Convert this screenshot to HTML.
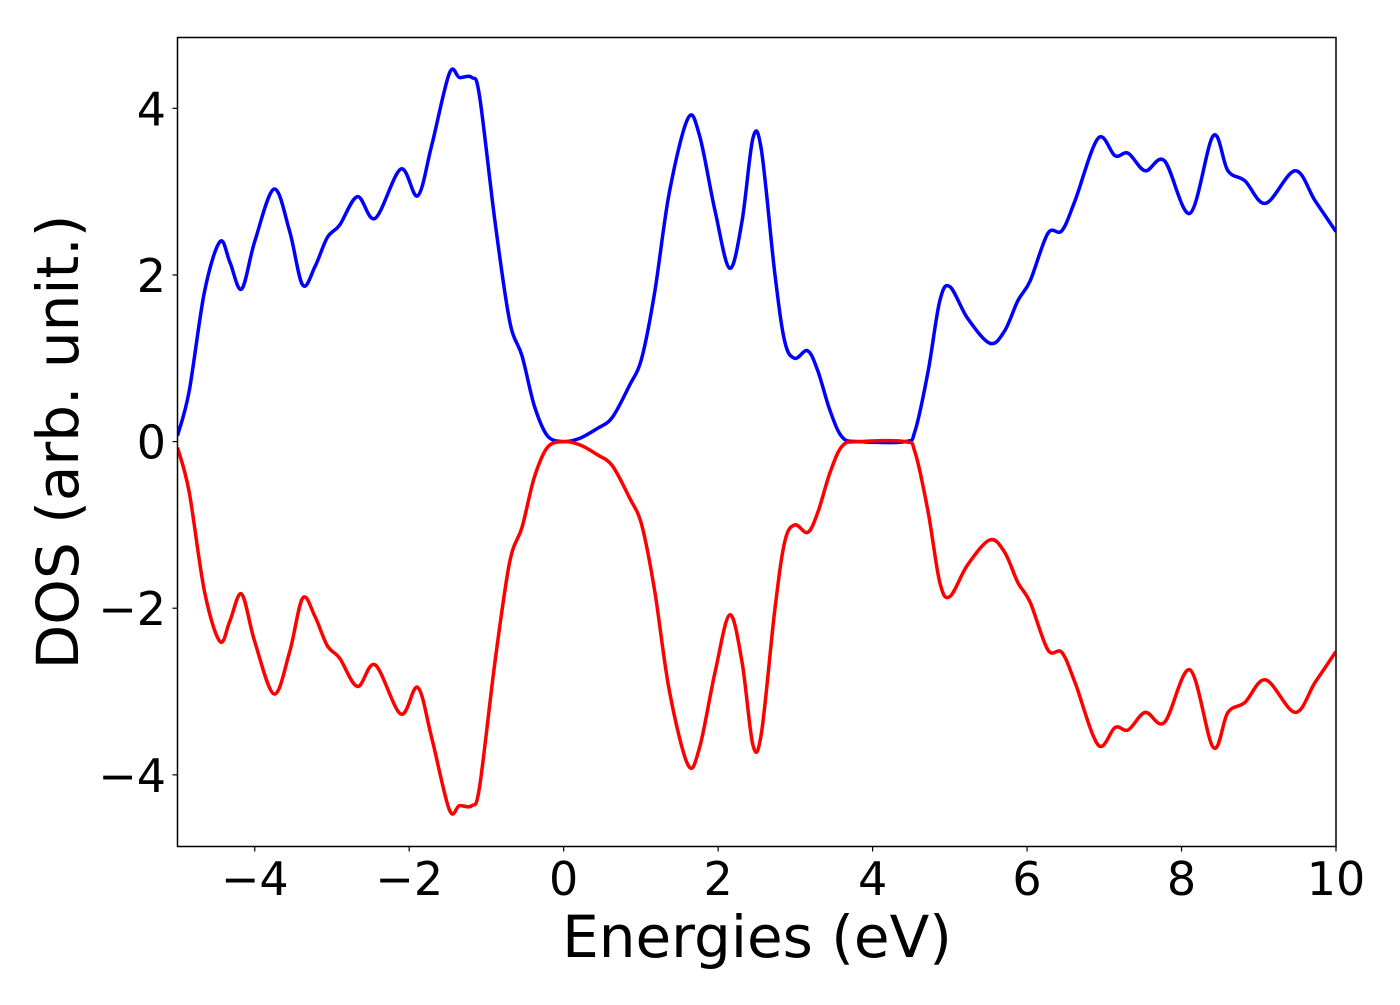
<!DOCTYPE html>
<html><head><meta charset="utf-8"><style>
body{margin:0;background:#fff;}
svg text{font-family:"DejaVu Sans","Liberation Sans",sans-serif;fill:#000;}
</style></head><body>
<svg id="chart" width="1400" height="1000" viewBox="0 0 1400 1000" xmlns="http://www.w3.org/2000/svg">
<rect x="0" y="0" width="1400" height="1000" fill="#fff"/>
<g id="plot"></g>
<rect x="177.5" y="37.5" width="1158.5" height="809" fill="none" stroke="#000" stroke-width="1.5"/>
<g id="xticks"></g><g id="yticks"></g>
<text x="757" y="957" font-size="58" text-anchor="middle">Energies (eV)</text>
<text transform="translate(78,442) rotate(-90)" font-size="58" text-anchor="middle">DOS (arb. unit.)</text>
</svg>
<script>
const energies=[-5,-4.85,-4.65,-4.45,-4.32,-4.17,-4.0,-3.75,-3.55,-3.38,-3.22,-3.06,-2.9,-2.67,-2.44,-2.11,-1.89,-1.71,-1.48,-1.35,-1.19,-1.09,-0.89,-0.7,-0.54,-0.38,-0.21,0,0.21,0.44,0.63,0.85,1.01,1.18,1.37,1.61,1.76,1.96,2.15,2.31,2.45,2.56,2.73,2.86,2.99,3.16,3.29,3.45,3.61,3.83,4.42,4.55,4.72,4.87,5.0,5.23,5.52,5.71,5.88,6.04,6.27,6.45,6.62,6.92,7.14,7.31,7.53,7.78,8.11,8.41,8.6,8.82,9.09,9.47,9.73,10.0];
const dosUp=[0.07,0.6,1.8,2.4,2.15,1.83,2.4,3.03,2.53,1.88,2.1,2.45,2.6,2.94,2.68,3.27,2.95,3.55,4.42,4.37,4.37,4.15,2.65,1.45,1.03,0.43,0.07,0,0.04,0.16,0.29,0.67,1.0,1.8,3.0,3.88,3.67,2.77,2.08,2.65,3.64,3.5,2.05,1.21,1.0,1.09,0.85,0.37,0.05,0,0,0.13,0.85,1.69,1.86,1.48,1.18,1.33,1.69,1.93,2.5,2.53,2.89,3.64,3.43,3.46,3.25,3.37,2.74,3.67,3.25,3.13,2.86,3.25,2.89,2.52];
const dosDown=[-0.07,-0.6,-1.8,-2.4,-2.15,-1.83,-2.4,-3.03,-2.53,-1.88,-2.1,-2.45,-2.6,-2.94,-2.68,-3.27,-2.95,-3.55,-4.42,-4.37,-4.37,-4.15,-2.65,-1.45,-1.03,-0.43,-0.07,0,-0.04,-0.16,-0.29,-0.67,-1.0,-1.8,-3.0,-3.88,-3.67,-2.77,-2.08,-2.65,-3.64,-3.5,-2.05,-1.21,-1.0,-1.09,-0.85,-0.37,-0.05,0,0,-0.13,-0.85,-1.69,-1.86,-1.48,-1.18,-1.33,-1.69,-1.93,-2.5,-2.53,-2.89,-3.64,-3.43,-3.46,-3.25,-3.37,-2.74,-3.67,-3.25,-3.13,-2.86,-3.25,-2.89,-2.52];
const xTicks=[-4,-2,0,2,4,6,8,10];
const yTicks=[-4,-2,0,2,4];
const NS="http://www.w3.org/2000/svg";
const X0=177.5,X1=1336,Y0=37.5,Y1=846.5,xmin=-5,xmax=10,ymin=-4.86,ymax=4.85;
function sx(v){return X0+(v-xmin)/(xmax-xmin)*(X1-X0);}
function sy(v){return Y1-(v-ymin)/(ymax-ymin)*(Y1-Y0);}
function pathD(xs,ys){
  const p=xs.map((x,i)=>[sx(x),sy(ys[i])]);
  let d="M"+p[0][0].toFixed(1)+","+p[0][1].toFixed(1);
  for(let i=0;i<p.length-1;i++){
    const a=p[Math.max(0,i-1)],b=p[i],c=p[i+1],e=p[Math.min(p.length-1,i+2)];
    const c1=[b[0]+(c[0]-a[0])/6,b[1]+(c[1]-a[1])/6],c2=[c[0]-(e[0]-b[0])/6,c[1]-(e[1]-b[1])/6];
    d+=" C"+c1.map(v=>v.toFixed(1))+" "+c2.map(v=>v.toFixed(1))+" "+c[0].toFixed(1)+","+c[1].toFixed(1);
  }
  return d;
}
const plot=document.getElementById('plot');
const clip=document.createElementNS(NS,'clipPath');clip.setAttribute('id','cp');
const cr=document.createElementNS(NS,'rect');cr.setAttribute('x',X0);cr.setAttribute('y',Y0);cr.setAttribute('width',X1-X0);cr.setAttribute('height',Y1-Y0);
clip.appendChild(cr);plot.appendChild(clip);
[[dosUp,'#0000ff','spin-up-line'],[dosDown,'#ff0000','spin-down-line']].forEach(([ys,col,nm])=>{
  const p=document.createElementNS(NS,'path');
  
  
  p.setAttribute('d',pathD(energies,ys));p.setAttribute('fill','none');p.setAttribute('stroke',col);
  p.setAttribute('stroke-width','3.5');p.setAttribute('clip-path','url(#cp)');
  plot.appendChild(p);
});
const xg=document.getElementById('xticks');
xTicks.forEach(t=>{
  const l=document.createElementNS(NS,'line');
  
  
  l.setAttribute('x1',sx(t));l.setAttribute('x2',sx(t));l.setAttribute('y1',Y1);l.setAttribute('y2',Y1+5);l.setAttribute('stroke','#000');l.setAttribute('stroke-width','1.2');
  xg.appendChild(l);
  const tx=document.createElementNS(NS,'text');
  
  
  tx.setAttribute('x',sx(t));tx.setAttribute('y',895);tx.setAttribute('font-size','46');tx.setAttribute('text-anchor','middle');
  tx.textContent=(t<0?'\u2212':'')+Math.abs(t);
  xg.appendChild(tx);
});
const yg=document.getElementById('yticks');
yTicks.forEach(t=>{
  const l=document.createElementNS(NS,'line');
  
  
  l.setAttribute('x1',X0-5);l.setAttribute('x2',X0);l.setAttribute('y1',sy(t));l.setAttribute('y2',sy(t));l.setAttribute('stroke','#000');l.setAttribute('stroke-width','1.2');
  yg.appendChild(l);
  const tx=document.createElementNS(NS,'text');
  
  
  tx.setAttribute('x',166);tx.setAttribute('y',sy(t)+17);tx.setAttribute('font-size','46');tx.setAttribute('text-anchor','end');
  tx.textContent=(t<0?'\u2212':'')+Math.abs(t);
  yg.appendChild(tx);
});
</script>
</body></html>
